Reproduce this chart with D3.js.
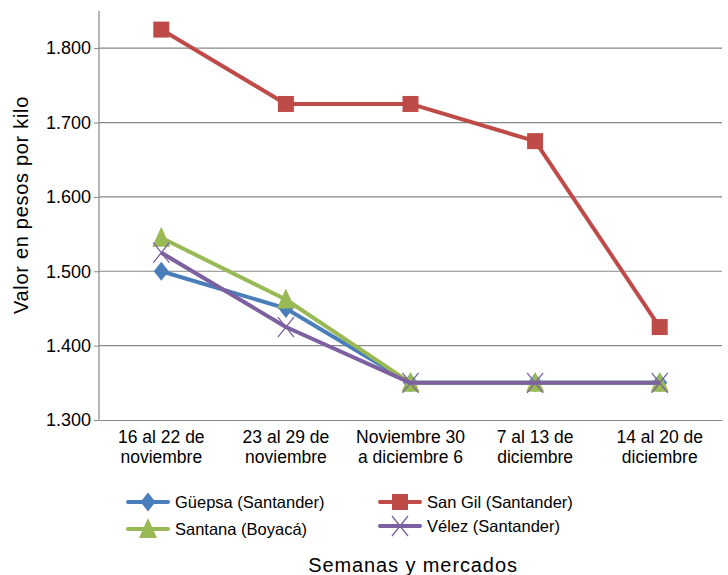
<!DOCTYPE html>
<html><head><meta charset="utf-8">
<script src="https://cdn.jsdelivr.net/npm/d3@7"></script>
<style>body{margin:0;background:#fff}text{font-family:"Liberation Sans",Arial,sans-serif;fill:#000}</style>
</head><body><svg id="c" width="728" height="575"></svg>
<script>
const categories = [["16 al 22 de","noviembre"],["23 al 29 de","noviembre"],["Noviembre 30","a diciembre 6"],["7 al 13 de","diciembre"],["14 al 20 de","diciembre"]];
const yTicks = [1300,1400,1500,1600,1700,1800];
const tickLabels = ["1.300","1.400","1.500","1.600","1.700","1.800"];
const guepsa = [1500,1450,1350,1350,1350];
const sanGil = [1825,1725,1725,1675,1425];
const santana = [1545,1462,1350,1350,1350];
const velez = [1525,1425,1350,1350,1350];
const seriesNames = ["Güepsa (Santander)","San Gil (Santander)","Santana (Boyacá)","Vélez (Santander)"];

const series = [
 {name:seriesNames[0],values:guepsa,color:"#4a7ebb",sym:"diamond"},
 {name:seriesNames[1],values:sanGil,color:"#be4b48",sym:"square"},
 {name:seriesNames[2],values:santana,color:"#98b954",sym:"triangle"},
 {name:seriesNames[3],values:velez,color:"#7d60a0",sym:"x"}
];
const svg = d3.select("#c");
const L=99,R=722,T=11,B=420;
const x = d3.scaleBand().domain(d3.range(categories.length)).range([L,R]);
const y = d3.scaleLinear().domain([1300,1850]).range([B,T]);

svg.append("g").selectAll("line").data(yTicks.slice(1)).join("line")
 .attr("x1",L).attr("x2",R).attr("y1",d=>y(d)).attr("y2",d=>y(d))
 .attr("stroke","#868686").attr("stroke-width",1.2);
const ya = svg.append("g").attr("transform",`translate(${L},0)`)
 .call(d3.axisLeft(y).tickValues(yTicks).tickFormat((d,i)=>tickLabels[i]).tickSize(5).tickPadding(3));
ya.select(".domain").remove();
ya.append("line").attr("x1",0).attr("x2",0).attr("y1",T).attr("y2",B).attr("stroke","#868686").attr("stroke-width",1.2);
ya.selectAll(".tick line").attr("stroke","#868686");
ya.selectAll(".tick text").attr("font-size",18).style("font-family","'Liberation Sans',Arial,sans-serif").attr("fill","#000");
const xa = svg.append("g").attr("transform",`translate(0,${B})`)
 .call(d3.axisBottom(x).tickFormat(()=>"").tickSize(0));
xa.select(".domain").attr("stroke","#868686").attr("stroke-width",1.2);
xa.selectAll(".tick").each(function(d){
  const t=d3.select(this).append("text").attr("text-anchor","middle").attr("font-size",17.5).attr("fill","#000");
  categories[d].forEach((s,i)=>t.append("tspan").attr("x",0).attr("y",23+i*20).text(s));
});
xa.selectAll(".tick line").remove();

const cx = i=>x(i)+x.bandwidth()/2;
function marker(g,sym,color,px,py){
  if(sym==="square") g.append("rect").attr("x",px-8).attr("y",py-8).attr("width",16).attr("height",16).attr("fill",color);
  else if(sym==="diamond") g.append("path").attr("d",`M${px},${py-9.5}L${px+7.5},${py}L${px},${py+9.5}L${px-7.5},${py}Z`).attr("fill",color);
  else if(sym==="triangle") g.append("path").attr("d",`M${px},${py-11}L${px+9},${py+9}L${px-9},${py+9}Z`).attr("fill",color);
  else if(sym==="x") g.append("path").attr("d",`M${px-8},${py-10}L${px+8},${py+10}M${px+8},${py-10}L${px-8},${py+10}`).attr("stroke",color).attr("stroke-width",1.3).attr("fill","none");
}
const line = d3.line().x((d,i)=>cx(i)).y(d=>y(d));
series.forEach(s=>{
  const g=svg.append("g");
  g.append("path").datum(s.values).attr("d",line).attr("fill","none").attr("stroke",s.color).attr("stroke-width",4).attr("stroke-linejoin","round");
  s.values.forEach((v,i)=>marker(g,s.sym,s.color,cx(i),y(v)));
});

const legPos=[[128,502],[380,502],[128,529],[380,526]];
series.forEach((s,i)=>{
  const [lx,ly]=legPos[i];
  const g=svg.append("g");
  g.append("line").attr("x1",lx).attr("x2",lx+40).attr("y1",ly).attr("y2",ly).attr("stroke",s.color).attr("stroke-width",4).attr("stroke-linecap","round");
  marker(g,s.sym,s.color,lx+20,ly);
  g.append("text").attr("x",lx+47).attr("y",ly+6).attr("font-size",16.5).text(s.name);
});

svg.append("text").attr("x",413).attr("y",572).attr("text-anchor","middle").attr("font-size",20).attr("letter-spacing",0.9).text("Semanas y mercados");
svg.append("text").attr("transform","translate(28,205) rotate(-90)").attr("text-anchor","middle").attr("font-size",20).attr("letter-spacing",0.7).text("Valor en pesos por kilo");
</script></body></html>
